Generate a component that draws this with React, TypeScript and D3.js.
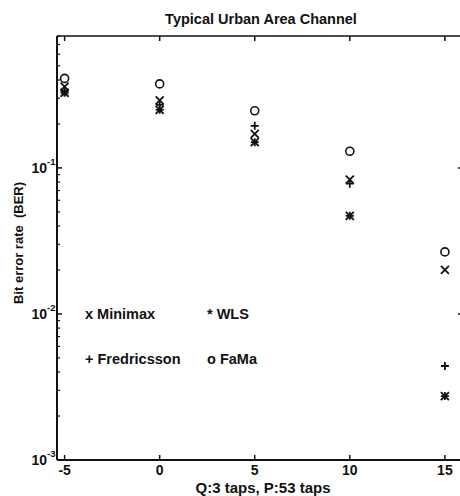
import React from "react";
import * as d3 from "d3";

const xValues = [-5, 0, 5, 10, 15];
const minimax = [0.36, 0.29, 0.171, 0.083, 0.02];
const fredricsson = [0.335, 0.27, 0.194, 0.078, 0.0044];
const wls = [0.327, 0.25, 0.15, 0.047, 0.00274];
const fama = [0.41, 0.376, 0.246, 0.13, 0.0266];
const xTicks = [-5, 0, 5, 10, 15];
const yMajor = [1e-3, 1e-2, 1e-1];
const yMajorExp = ["-3", "-2", "-1"];

const W = 460;
const H = 496;

export default function App() {
  const x = d3.scaleLinear().domain([-5.4, 15.9]).range([57, 462]);
  const y = d3.scaleLog().domain([1e-3, 0.8]).range([460, 36]);
  const [x0, x1] = x.range();
  const [yb, yt] = y.range();

  const minor: number[] = [];
  [1e-3, 1e-2, 1e-1].forEach((d) => {
    for (let k = 2; k <= 9; k++) {
      const v = d * k;
      if (v <= 0.8) minor.push(v);
    }
  });

  const font = "'Liberation Sans', Arial, Helvetica, sans-serif";
  const stroke = "#111";
  const s = 4;

  const markX = (cx: number, cy: number, key: string) => (
    <path key={key} d={`M${cx - s},${cy - s}L${cx + s},${cy + s}M${cx - s},${cy + s}L${cx + s},${cy - s}`} stroke={stroke} strokeWidth={1.8} fill="none" />
  );
  const markPlus = (cx: number, cy: number, key: string) => (
    <path key={key} d={`M${cx - s},${cy}L${cx + s},${cy}M${cx},${cy - s}L${cx},${cy + s}`} stroke={stroke} strokeWidth={1.8} fill="none" />
  );
  const markStar = (cx: number, cy: number, key: string) => (
    <path key={key} d={`M${cx - s},${cy - s}L${cx + s},${cy + s}M${cx - s},${cy + s}L${cx + s},${cy - s}M${cx - s},${cy}L${cx + s},${cy}M${cx},${cy - s}L${cx},${cy + s}`} stroke={stroke} strokeWidth={1.8} fill="none" />
  );
  const markO = (cx: number, cy: number, key: string) => (
    <circle key={key} cx={cx} cy={cy} r={4} stroke={stroke} strokeWidth={1.6} fill="none" />
  );

  return (
    <svg width={W} height={H} style={{ position: "absolute", left: 0, top: 0, background: "#fff" }} fontFamily={font}>
      <rect x={0} y={0} width={W} height={H} fill="#fff" />
      {/* title */}
      <text x={261} y={24} textAnchor="middle" fontSize={14.5} fontWeight="bold" fill={stroke}>Typical Urban Area Channel</text>
      {/* frame */}
      <line x1={x0} x2={x1} y1={yb} y2={yb} stroke={stroke} strokeWidth={2} />
      <line x1={x0} x2={x1} y1={yt} y2={yt} stroke={stroke} strokeWidth={1.6} />
      <line x1={x0} x2={x0} y1={yt} y2={yb} stroke={stroke} strokeWidth={2} />
      <line x1={x1} x2={x1} y1={yt} y2={yb} stroke={stroke} strokeWidth={2} />
      {/* x ticks */}
      {xTicks.map((t) => (
        <g key={"xt" + t}>
          <line x1={x(t)} x2={x(t)} y1={yb} y2={yb - 5} stroke={stroke} strokeWidth={1.5} />
          <line x1={x(t)} x2={x(t)} y1={yt} y2={yt + 5} stroke={stroke} strokeWidth={1.5} />
          <text x={x(t)} y={yb + 15} textAnchor="middle" fontSize={14} fontWeight="bold" fill={stroke}>{t}</text>
        </g>
      ))}
      {/* y major ticks */}
      {yMajor.map((v, i) => (
        <g key={"ym" + i}>
          <line x1={x0} x2={x0 + 5} y1={y(v)} y2={y(v)} stroke={stroke} strokeWidth={1.5} />
          <line x1={x1} x2={x1 - 4} y1={y(v)} y2={y(v)} stroke={stroke} strokeWidth={1.5} />
          <text x={x0 - 10} y={y(v) + 5} textAnchor="end" fontSize={14} fontWeight="bold" fill={stroke}>10</text>
          <text x={x0 - 10} y={y(v) - 3} textAnchor="start" fontSize={9.5} fontWeight="bold" fill={stroke}>{yMajorExp[i]}</text>
        </g>
      ))}
      {minor.map((v, i) => (
        <g key={"yn" + i}>
          <line x1={x0} x2={x0 + 3} y1={y(v)} y2={y(v)} stroke={stroke} strokeWidth={1.2} />
          <line x1={x1} x2={x1 - 2} y1={y(v)} y2={y(v)} stroke={stroke} strokeWidth={1.2} />
        </g>
      ))}
      {/* axis labels */}
      <text x={263} y={493} textAnchor="middle" fontSize={15} fontWeight="bold" fill={stroke}>Q:3 taps, P:53 taps</text>
      <text transform={`translate(23,243) rotate(-90)`} textAnchor="middle" fontSize={13} fontWeight="bold" fill={stroke} style={{ whiteSpace: "pre" }}>Bit error rate  (BER)</text>
      {/* data */}
      {xValues.map((xv, i) => markO(x(xv), y(fama[i]), "o" + i))}
      {xValues.map((xv, i) => markPlus(x(xv), y(fredricsson[i]), "p" + i))}
      {xValues.map((xv, i) => markX(x(xv), y(minimax[i]), "x" + i))}
      {xValues.map((xv, i) => markStar(x(xv), y(wls[i]), "s" + i))}
      {/* legend */}
      <text x={85} y={319} fontSize={14.5} fontWeight="bold" fill={stroke}>x Minimax</text>
      <text x={207} y={319} fontSize={14.5} fontWeight="bold" fill={stroke}>* WLS</text>
      <text x={85} y={364} fontSize={14.5} fontWeight="bold" fill={stroke}>+ Fredricsson</text>
      <text x={207} y={364} fontSize={14.5} fontWeight="bold" fill={stroke}>o FaMa</text>
    </svg>
  );
}
